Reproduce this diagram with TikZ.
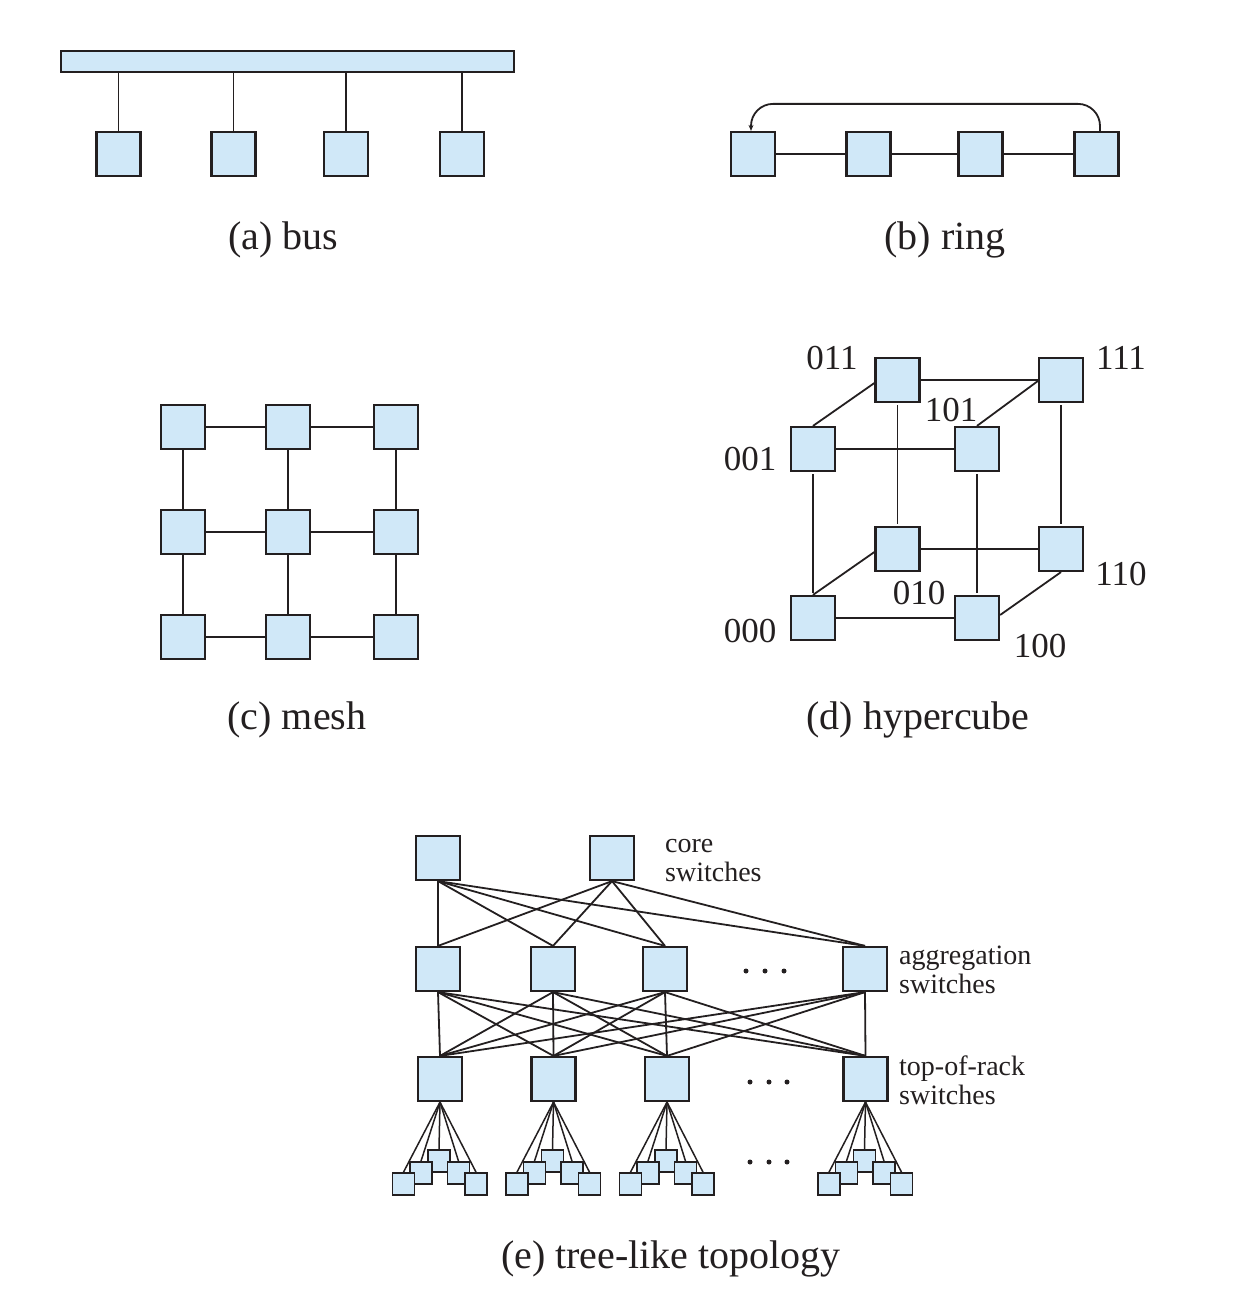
\documentclass[tikz,border=0pt]{standalone}
\usepackage{fontspec}
\setmainfont{Liberation Serif}
\usetikzlibrary{arrows.meta,calc}
\definecolor{boxfill}{RGB}{208,232,248}
\definecolor{ink}{RGB}{35,31,32}
\pgfdeclarelayer{bg}
\pgfsetlayers{bg,main}
\begin{document}
\begin{tikzpicture}[x=1pt,y=-1pt,
 box/.style={draw=ink,fill=boxfill,line width=2.2pt,minimum width=44pt,minimum height=44pt,inner sep=0pt},
 sbox/.style={box,minimum width=22pt,minimum height=22pt,line width=1.8pt},
 link/.style={draw=ink,line width=1.8pt},
 slink/.style={draw=ink,line width=1.5pt},
 captxt/.style={font=\fontsize{40}{45}\selectfont,text=ink,inner sep=0pt},
 num/.style={font=\fontsize{35}{40}\selectfont,text=ink,inner sep=0pt},
 lab/.style={font=\fontsize{28}{29}\selectfont,text=ink,inner sep=0pt,align=left,anchor=west},
 dotnode/.style={circle,fill=ink,inner sep=0pt,minimum size=5pt}]
\useasboundingbox (0,0) rectangle (1238,1311);

% ---------- (a) bus ----------
\node[box,minimum width=453pt,minimum height=21pt] (bus) at (287.5,61.5) {};
\foreach \i/\x in {1/118.5,2/233.5,3/346,4/462}{
  \node[box] (b\i) at (\x,154) {};
  \draw[link] (b\i.north) -- (b\i |- bus.south);
}
\node[captxt] (capa) at (283,240) {(a) bus};

% ---------- (b) ring ----------
\foreach \i/\x in {1/753,2/868.5,3/980.5,4/1096.5}{
  \node[box] (r\i) at (\x,154) {};
}
\draw[link] (r1) -- (r2);
\draw[link] (r2) -- (r3);
\draw[link] (r3) -- (r4);
\draw[link,rounded corners=22pt,-{Stealth[length=6pt,width=5pt]}]
  ([xshift=3.5pt]r4.north) -- ++(0,-27) -| ([xshift=-2pt]r1.north);
\node[captxt] (capb) at (945,240) {(b) ring};

% ---------- (c) mesh ----------
\foreach \c/\x in {1/183,2/288,3/396}{
  \foreach \r/\y in {1/427,2/532,3/637}{
    \node[box] (m\r\c) at (\x,\y) {};
  }
}
\begin{pgfonlayer}{bg}
\foreach \r in {1,2,3}{
  \draw[link] (m\r1) -- (m\r2);
  \draw[link] (m\r2) -- (m\r3);
  \draw[link] (m1\r) -- (m2\r);
  \draw[link] (m2\r) -- (m3\r);
}
\end{pgfonlayer}
\node[captxt] (capc) at (297,720) {(c) mesh};

% ---------- (d) hypercube ----------
\node[box] (h011) at (897.5,380) {};
\node[box] (h111) at (1061,380) {};
\node[box] (h001) at (813,449) {};
\node[box] (h101) at (977,449) {};
\node[box] (h010) at (897.5,549) {};
\node[box] (h110) at (1061,549) {};
\node[box] (h000) at (813,618) {};
\node[box] (h100) at (977,618) {};
\begin{pgfonlayer}{bg}
\draw[link] (h011) -- (h111);
\draw[link] (h001) -- (h101);
\draw[link] (h010) -- (h110);
\draw[link] (h000) -- (h100);
\draw[link,shorten <=2pt,shorten >=2pt] (h001.south) -- (h000.north);
\draw[link,shorten <=2pt,shorten >=2pt] (h011.south) -- (h010.north);
\draw[link,shorten <=2pt,shorten >=2pt] (h101.south) -- (h100.north);
\draw[link,shorten <=2pt,shorten >=2pt] (h111.south) -- (h110.north);
\end{pgfonlayer}
\draw[link] (h001.north) -- ([yshift=-3pt]h011.west);
\draw[link] (h101.north) -- ([yshift=-1pt]h111.west);
\draw[link] (h000.north) -- ([yshift=-3pt]h010.west);
\draw[link] ([yshift=3pt]h100.east) -- (h110.south);
\node[num] (l011) at (832,358) {011};
\node[num] (l111) at (1121,358) {111};
\node[num] (l101) at (951,410) {101};
\node[num] (l001) at (750,459) {001};
\node[num] (l110) at (1121,574) {110};
\node[num] (l010) at (919,593) {010};
\node[num] (l000) at (750,631) {000};
\node[num] (l100) at (1040,646) {100};
\node[captxt] (capd) at (918,720) {(d) hypercube};

% ---------- (e) tree-like topology ----------
\node[box] (c1) at (438,858) {};
\node[box] (c2) at (612,858) {};
\foreach \i/\x in {1/438,2/553,3/665,4/865}{
  \node[box] (a\i) at (\x,969) {};
}
\foreach \i/\x in {1/440,2/553.5,3/667,4/865.5}{
  \node[box] (t\i) at (\x,1079) {};
  \node[sbox] (s\i-c) at (\x-1,1161) {};
  \node[sbox] (s\i-b) at (\x-19,1173) {};
  \node[sbox] (s\i-d) at (\x+18.5,1173) {};
  \node[sbox] (s\i-a) at (\x-36.5,1184) {};
  \node[sbox] (s\i-e) at (\x+36,1184) {};
}
\begin{pgfonlayer}{bg}
\foreach \c in {1,2}{
  \foreach \a in {1,2,3,4}{
    \draw[link] (c\c.south) -- (a\a.north);
  }
}
\foreach \a in {1,2,3,4}{
  \foreach \t in {1,2,3,4}{
    \draw[link] (a\a.south) -- (t\t.north);
  }
}
\foreach \t in {1,2,3,4}{
  \foreach \s in {a,b,c,d,e}{
    \draw[slink] (t\t.south) -- (s\t-\s.north);
  }
}
\end{pgfonlayer}
\foreach \k/\x in {1/746,2/765,3/784}{
  \node[dotnode] (da\k) at (\x,971) {};
}
\foreach \k/\x in {1/750,2/769,3/787}{
  \node[dotnode] (dt\k) at (\x,1082) {};
  \node[dotnode] (ds\k) at (\x,1162) {};
}
\node[lab] (lcore) at (665,861) {core\\switches};
\node[lab] (lagg) at (899,970) {aggregation\\switches};
\node[lab] (ltor) at (899,1080) {top-of-rack\\switches};
\node[captxt] (cape) at (671,1259) {(e) tree-like topology};
\end{tikzpicture}
\end{document}
